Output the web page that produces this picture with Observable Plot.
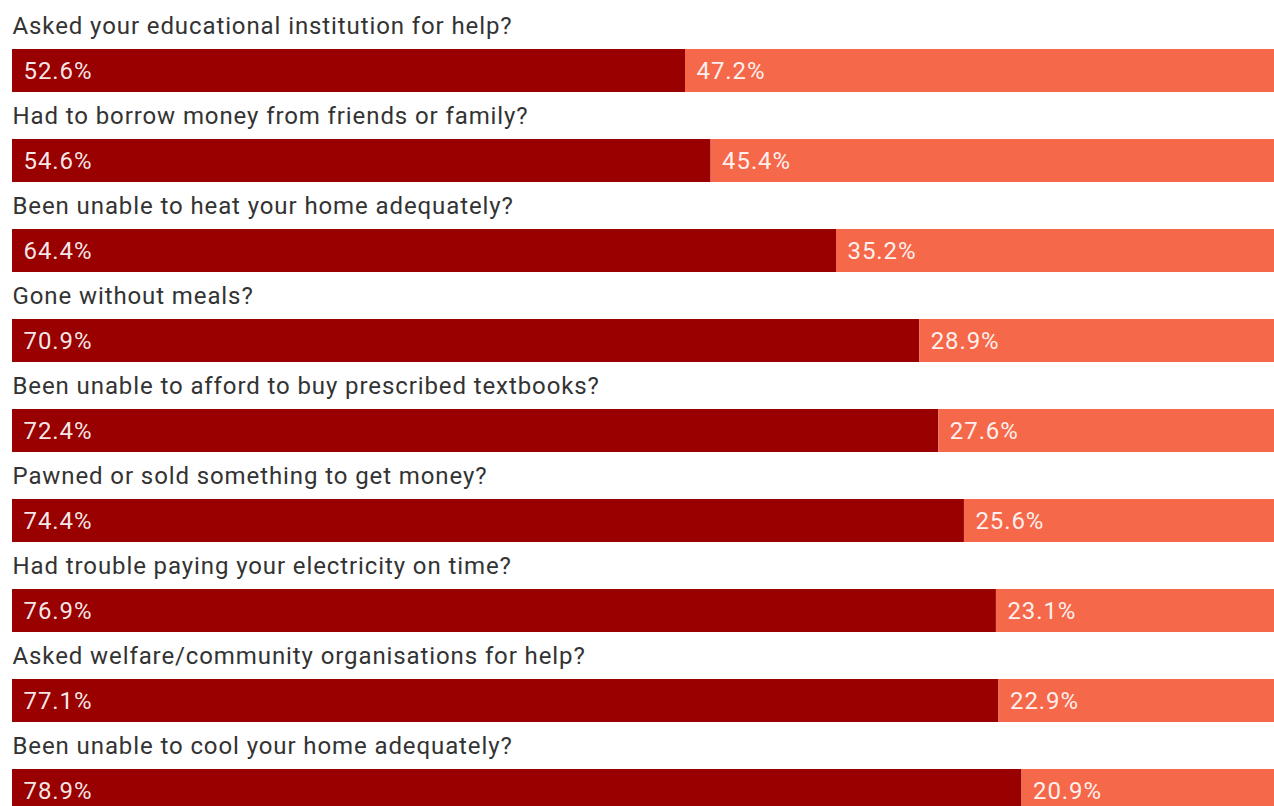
<!DOCTYPE html>
<html>
<head>
<meta charset="utf-8">
<script src="https://cdn.jsdelivr.net/npm/d3@7"></script>
<script src="https://cdn.jsdelivr.net/npm/@observablehq/plot@0.6"></script>
<style>
  html, body { margin: 0; padding: 0; background: #fff; overflow: hidden; }
  #chart { width: 1274px; height: 806px; overflow: hidden; }
  #chart svg { overflow: hidden; }
  #chart svg text { letter-spacing: 0.9px; }
</style>
</head>
<body>
<div id="chart"></div>
<script>
const questions = [
  "Asked your educational institution for help?",
  "Had to borrow money from friends or family?",
  "Been unable to heat your home adequately?",
  "Gone without meals?",
  "Been unable to afford to buy prescribed textbooks?",
  "Pawned or sold something to get money?",
  "Had trouble paying your electricity on time?",
  "Asked welfare/community organisations for help?",
  "Been unable to cool your home adequately?"
];
const seriesNames = ["No", "Yes"];
const noValues  = [52.6, 54.6, 64.4, 70.9, 72.4, 74.4, 76.9, 77.1, 78.9];
const yesValues = [47.2, 45.4, 35.2, 28.9, 27.6, 25.6, 23.1, 22.9, 20.9];
const colors = ["#990000", "#f6684a"];

const data = [];
questions.forEach((q, i) => {
  data.push({q, series: seriesNames[0], value: noValues[i]});
  data.push({q, series: seriesNames[1], value: yesValues[i]});
});

const font = "Roboto, 'Noto Sans', sans-serif";

const chart = Plot.plot({
  width: 1274,
  height: 806,
  margin: 0,
  style: {fontFamily: font, background: "#fff", overflow: "hidden"},
  x: {domain: [0, 100], range: [12, 1291.5], axis: null},
  y: {domain: questions, range: [4, 814], padding: 0, axis: null},
  color: {domain: seriesNames, range: colors},
  marks: [
    Plot.barX(data, Plot.stackX({
      x: "value", y: "q", fill: "series", insetTop: 45, insetBottom: 2
    })),
    Plot.text(data, Plot.stackX1({
      x: "value", y: "q", z: "series",
      text: d => d.value.toFixed(1) + "%",
      textAnchor: "start", dx: 11, dy: 22,
      fill: "#fff", fillOpacity: 0.92, fontSize: 24
    })),
    Plot.text(questions, {
      x: () => 0, y: d => d, text: d => d,
      textAnchor: "start", dy: -23.5,
      fill: "#333", fontSize: 24
    })
  ]
});
document.getElementById("chart").appendChild(chart);
</script>
</body>
</html>
